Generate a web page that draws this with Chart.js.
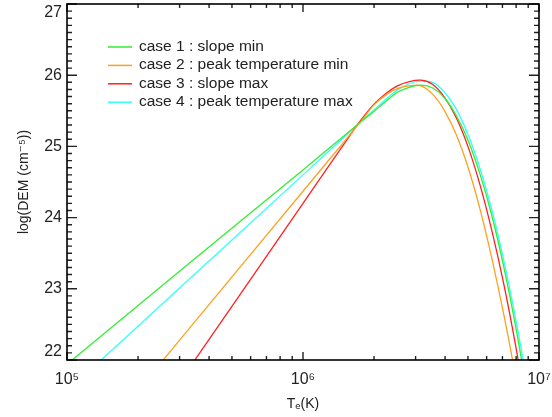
<!DOCTYPE html>
<html>
<head>
<meta charset="utf-8">
<script src="https://cdn.jsdelivr.net/npm/chart.js@4.4.1/dist/chart.umd.min.js"></script>
<style>
  html, body { margin: 0; padding: 0; background: #fff; }
  #wrap { width: 552px; height: 417px; }
</style>
</head>
<body>
<div id="wrap"><canvas id="dem" width="552" height="417"></canvas></div>
<script>
// log10 of the temperature grid (K)
const logTemp = [5.0, 5.5, 6.0, 6.2, 6.25, 6.3, 6.35, 6.4, 6.45, 6.5, 6.55, 6.6, 6.65, 6.7, 6.75, 6.8, 6.85, 6.9, 6.95];

// log(DEM) for each case on that grid
const case1 = [21.94, 23.31, 24.67, 25.22, 25.36, 25.49, 25.63, 25.76, 25.83, 25.86, 25.82, 25.68, 25.43, 25.08, 24.61, 24.03, 23.32, 22.49, 21.54];
const case2 = [20.37, 22.37, 24.37, 25.17, 25.37, 25.58, 25.72, 25.81, 25.85, 25.85, 25.73, 25.50, 25.16, 24.70, 24.12, 23.43, 22.65, 21.78, 20.78];
const case3 = [19.40, 21.80, 24.20, 25.16, 25.39, 25.59, 25.74, 25.85, 25.91, 25.93, 25.87, 25.69, 25.40, 24.99, 24.46, 23.82, 23.08, 22.22, 21.25];
const case4 = [21.56, 23.08, 24.60, 25.21, 25.36, 25.51, 25.66, 25.79, 25.88, 25.92, 25.90, 25.76, 25.52, 25.16, 24.69, 24.11, 23.41, 22.60, 21.68];

const caseLabels = ["case 1 : slope min", "case 2 : peak temperature min", "case 3 : slope max", "case 4 : peak temperature max"];
const caseColors = ["#33ee33", "#ffa020", "#ff2020", "#33ffff"];

const sup = { "5": "\u2075", "6": "\u2076", "7": "\u2077" };

function isDecade(v) {
  const e = Math.log10(v);
  return Math.abs(e - Math.round(e)) < 1e-6;
}

function toPoints(vals) {
  return logTemp.map((lt, i) => ({ x: Math.pow(10, lt), y: vals[i] }));
}

// inward ticks on all four sides + the frame
const boxTicks = {
  id: "boxTicks",
  afterDraw(chart) {
    const { ctx, chartArea: a } = chart;
    const x = chart.scales.x, y = chart.scales.y;
    ctx.save();
    ctx.strokeStyle = "#222";
    ctx.lineWidth = 1.4;
    ctx.beginPath();
    const e0 = Math.round(Math.log10(x.min)), e1 = Math.round(Math.log10(x.max));
    for (let e = e0; e <= e1; e++) {
      for (let m = 1; m <= 9; m++) {
        const v = m * Math.pow(10, e);
        if (v > x.max * 1.0001) break;
        const px = x.getPixelForValue(v);
        const len = m === 1 ? 8 : 4;
        ctx.moveTo(px, a.bottom); ctx.lineTo(px, a.bottom - len);
        ctx.moveTo(px, a.top); ctx.lineTo(px, a.top + len);
      }
    }
    const n = Math.round((y.max - y.min) * 10);
    for (let i = 0; i <= n; i++) {
      const py = y.getPixelForValue(y.min + i / 10);
      const len = i % 10 === 0 ? 10 : 5;
      ctx.moveTo(a.left, py); ctx.lineTo(a.left + len, py);
      ctx.moveTo(a.right, py); ctx.lineTo(a.right - len, py);
    }
    ctx.stroke();
    ctx.strokeStyle = "#000";
    ctx.lineWidth = 1.6;
    ctx.strokeRect(a.left, a.top, a.right - a.left, a.bottom - a.top);
    ctx.restore();
  }
};

// legend inside the plot, upper left
const innerLegend = {
  id: "innerLegend",
  afterDraw(chart) {
    const { ctx } = chart;
    ctx.save();
    ctx.font = "15.5px 'Liberation Sans', 'DejaVu Sans', sans-serif";
    ctx.textBaseline = "middle";
    chart.data.datasets.forEach((ds, i) => {
      const yy = 46.5 + i * 18.4;
      ctx.strokeStyle = ds.borderColor;
      ctx.lineWidth = 1.5;
      ctx.beginPath();
      ctx.moveTo(108, yy + 0.5);
      ctx.lineTo(132, yy + 0.5);
      ctx.stroke();
      ctx.fillStyle = "#222";
      ctx.fillText(ds.label, 139, yy);
    });
    ctx.restore();
  }
};

Chart.defaults.font.family = "'Liberation Sans', 'DejaVu Sans', sans-serif";
Chart.defaults.color = "#222";

const datasets = [case1, case2, case3, case4].map((vals, i) => ({
  label: caseLabels[i],
  data: toPoints(vals),
  borderColor: caseColors[i],
  backgroundColor: caseColors[i],
  borderWidth: 1.3,
  pointRadius: 0,
  tension: 0.35,
  fill: false
}));

new Chart(document.getElementById("dem"), {
  type: "line",
  data: { datasets },
  options: {
    responsive: false,
    animation: false,
    layout: { padding: { top: 4, right: 13, left: 0, bottom: 0 } },
    plugins: { legend: { display: false }, tooltip: { enabled: false } },
    scales: {
      x: {
        type: "logarithmic",
        min: 1e5,
        max: 1e7,
        grid: { display: false, drawTicks: false },
        border: { display: false },
        ticks: {
          autoSkip: false,
          maxRotation: 0,
          padding: 10,
          font: { size: 16 },
          callback: v => {
            if (!isDecade(v)) return "";
            const e = String(Math.round(Math.log10(v)));
            return "10" + (sup[e] || e);
          }
        },
        title: { display: true, text: "T\u2091(K)", font: { size: 14 }, padding: { top: 0, bottom: 4 } },
        afterFit: s => { s.height = 57; s.paddingLeft = 0; s.paddingRight = 0; }
      },
      y: {
        type: "linear",
        min: 22,
        max: 27,
        grid: { display: false, drawTicks: false },
        border: { display: false },
        ticks: {
          stepSize: 1,
          padding: 5,
          font: { size: 16, lineHeight: 1.1 },
          // end labels sit just inside the frame
          callback: (v, i, ticks) => {
            if (i === ticks.length - 1) return ["", String(v)];
            if (i === 0) return [String(v), ""];
            return String(v);
          }
        },
        title: { display: true, text: "log(DEM (cm\u207B\u2075))", font: { size: 14 }, padding: { top: 16, bottom: 0 } },
        afterFit: s => { s.width = 67; s.paddingTop = 0; s.paddingBottom = 0; }
      }
    }
  },
  plugins: [boxTicks, innerLegend]
});
</script>
</body>
</html>
